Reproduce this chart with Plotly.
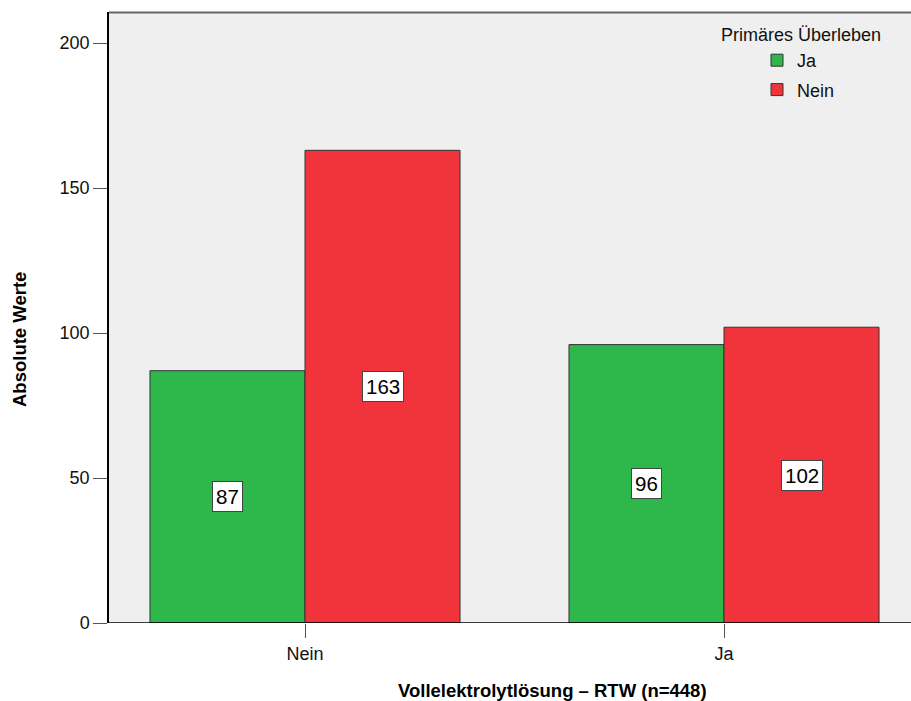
import plotly.graph_objects as go

categories = ["Nein", "Ja"]
ja_values = [87, 96]
nein_values = [163, 102]
series_names = ["Ja", "Nein"]
legend_title = "Primäres Überleben"
x_title = "Vollelektrolytlösung – RTW (n=448)"
y_title = "Absolute Werte"
y_ticks = [0, 50, 100, 150, 200]

GREEN = "#2eb84c"
RED = "#f1343c"
FONT = "Liberation Sans, Arial, sans-serif"

W, H = 911, 701
ML, MT, MB, MR = 109, 12, 78, 0
PW, PH = W - ML - MR, H - MT - MB
x_range = [-0.4678, 1.4463]
y_range = [0, 210.7]

fig = go.Figure()
for name, vals, col in [(series_names[0], ja_values, GREEN), (series_names[1], nein_values, RED)]:
    fig.add_trace(go.Bar(
        x=categories, y=vals, name=name, legendgroup=name,
        marker=dict(color=col, line=dict(color="#333333", width=1)),
    ))

# value labels in boxes at the middle of each bar
offset = 0.185
for i, cat in enumerate(categories):
    for vals, dx in [(ja_values, -offset), (nein_values, offset)]:
        v = vals[i]
        fig.add_annotation(
            x=i + dx, y=v / 2, xref="x", yref="y", text=str(v), showarrow=False,
            font=dict(family=FONT, size=20.5, color="black"),
            bgcolor="white", bordercolor="#444444", borderwidth=1, borderpad=3,
        )

# legend title
fig.add_annotation(
    x=(719 - ML) / PW, y=(623 - 35) / PH, xref="paper", yref="paper",
    xanchor="left", yanchor="middle", text=legend_title, showarrow=False,
    font=dict(family=FONT, size=18, color="#111111"),
)
# axis titles
fig.add_annotation(
    x=(552 - ML) / PW, y=(623 - 690) / PH, xref="paper", yref="paper",
    xanchor="center", yanchor="middle", text="<b>" + x_title + "</b>", showarrow=False,
    font=dict(family=FONT, size=18.5, color="black"),
)
fig.add_annotation(
    x=(19 - ML) / PW, y=(623 - 340) / PH, xref="paper", yref="paper",
    xanchor="center", yanchor="middle", text="<b>" + y_title + "</b>", showarrow=False,
    textangle=-90, font=dict(family=FONT, size=18.5, color="black"),
)

# top border
fig.add_shape(type="line", xref="paper", yref="paper", x0=0, x1=1, y0=0.999, y1=0.999,
              line=dict(color="#666666", width=2), layer="above")

fig.update_layout(
    width=W, height=H,
    margin=dict(l=ML, r=MR, t=MT, b=MB),
    paper_bgcolor="white", plot_bgcolor="#efefef",
    barmode="group", bargap=0.26, bargroupgap=0,
    font=dict(family=FONT, size=18, color="#111111"),
    showlegend=True,
    legend=dict(
        x=(757 - ML) / PW, y=(623 - 42) / PH, xanchor="left", yanchor="top",
        bgcolor="rgba(0,0,0,0)", tracegroupgap=3, traceorder="grouped",
        font=dict(family=FONT, size=18, color="#111111"),
    ),
    xaxis=dict(
        range=x_range, showgrid=False, zeroline=False,
        showline=False, ticks="outside", ticklen=14, tickcolor="#555555",
        tickfont=dict(family=FONT, size=18, color="#111111"),
    ),
    yaxis=dict(
        range=y_range, tickvals=y_ticks, showgrid=False, zeroline=False,
        showline=True, linecolor="black", linewidth=1.5,
        ticks="outside", ticklen=14, tickcolor="#555555",
        tickfont=dict(family=FONT, size=18, color="#111111"),
    ),
)
# x axis baseline
fig.add_shape(type="line", xref="paper", yref="y", x0=0, x1=1, y0=0, y1=0,
              line=dict(color="black", width=1.5), layer="above")

fig.write_html("out.html", config={"displayModeBar": False},
               post_script="document.body.style.margin='0';document.body.style.overflow='hidden';")
